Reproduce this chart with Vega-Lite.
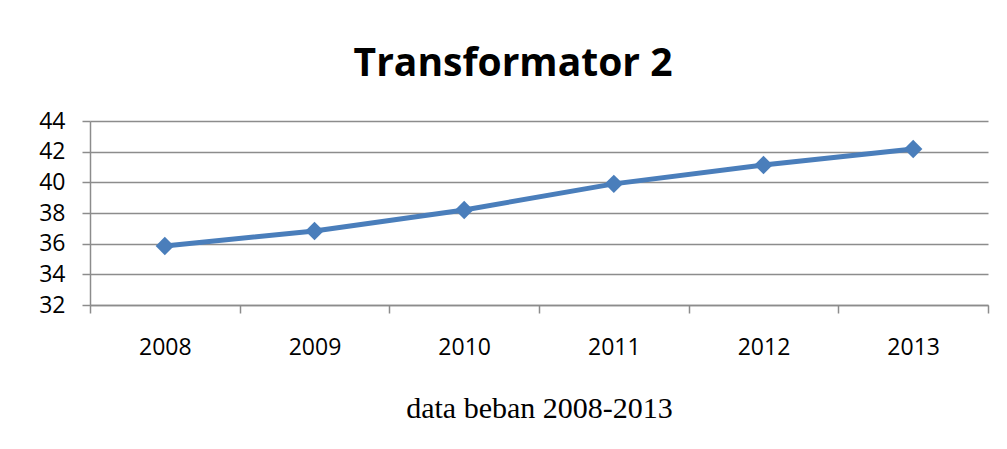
{
  "$schema": "https://vega.github.io/schema/vega-lite/v6.json",
  "autosize": "none",
  "width": 898,
  "height": 184,
  "padding": {"left": 90, "top": 121, "right": 19, "bottom": 144},
  "background": "white",
  "config": {"view": {"stroke": null}, "font": "Open Sans"},
  "title": {
    "text": "Transformator 2",
    "font": "Open Sans",
    "fontSize": 39,
    "fontWeight": "bold",
    "color": "#000000",
    "anchor": "middle",
    "dx": -26,
    "baseline": "alphabetic",
    "offset": -5
  },
  "data": {
    "values": [
      {"year": "2008", "beban": 35.85},
      {"year": "2009", "beban": 36.83},
      {"year": "2010", "beban": 38.2},
      {"year": "2011", "beban": 39.9},
      {"year": "2012", "beban": 41.13},
      {"year": "2013", "beban": 42.17}
    ]
  },
  "encoding": {
    "x": {
      "field": "year",
      "type": "ordinal",
      "scale": {"type": "band", "paddingInner": 0, "paddingOuter": 0},
      "axis": {
        "title": "data beban 2008-2013",
        "titleFont": "Liberation Serif",
        "titleFontSize": 30,
        "titleFontWeight": "normal",
        "titleColor": "#000000",
        "titlePadding": 34,
        "labelAngle": 0,
        "labelFont": "Open Sans",
        "labelFontSize": 23,
        "labelColor": "#000000",
        "labelPadding": 23,
        "tickBand": "extent",
        "tickSize": 8,
        "tickColor": "#8c8c8c",
        "tickWidth": 1.5,
        "domainColor": "#8c8c8c",
        "domainWidth": 1.5,
        "grid": false
      }
    },
    "y": {
      "field": "beban",
      "type": "quantitative",
      "scale": {"domain": [32, 44], "nice": false, "zero": false},
      "axis": {
        "title": null,
        "values": [32, 34, 36, 38, 40, 42, 44],
        "labelFont": "Open Sans",
        "labelFontSize": 23,
        "labelColor": "#000000",
        "labelPadding": 17,
        "tickSize": 8,
        "tickColor": "#8c8c8c",
        "tickWidth": 1.5,
        "domainColor": "#8c8c8c",
        "domainWidth": 1.5,
        "grid": true,
        "gridColor": "#8c8c8c",
        "gridWidth": 1.5
      }
    }
  },
  "layer": [
    {"mark": {"type": "line", "color": "#4A7EBB", "strokeWidth": 5}},
    {"mark": {"type": "point", "shape": "diamond", "filled": true, "opacity": 1, "color": "#4A7EBB", "size": 340}}
  ]
}
